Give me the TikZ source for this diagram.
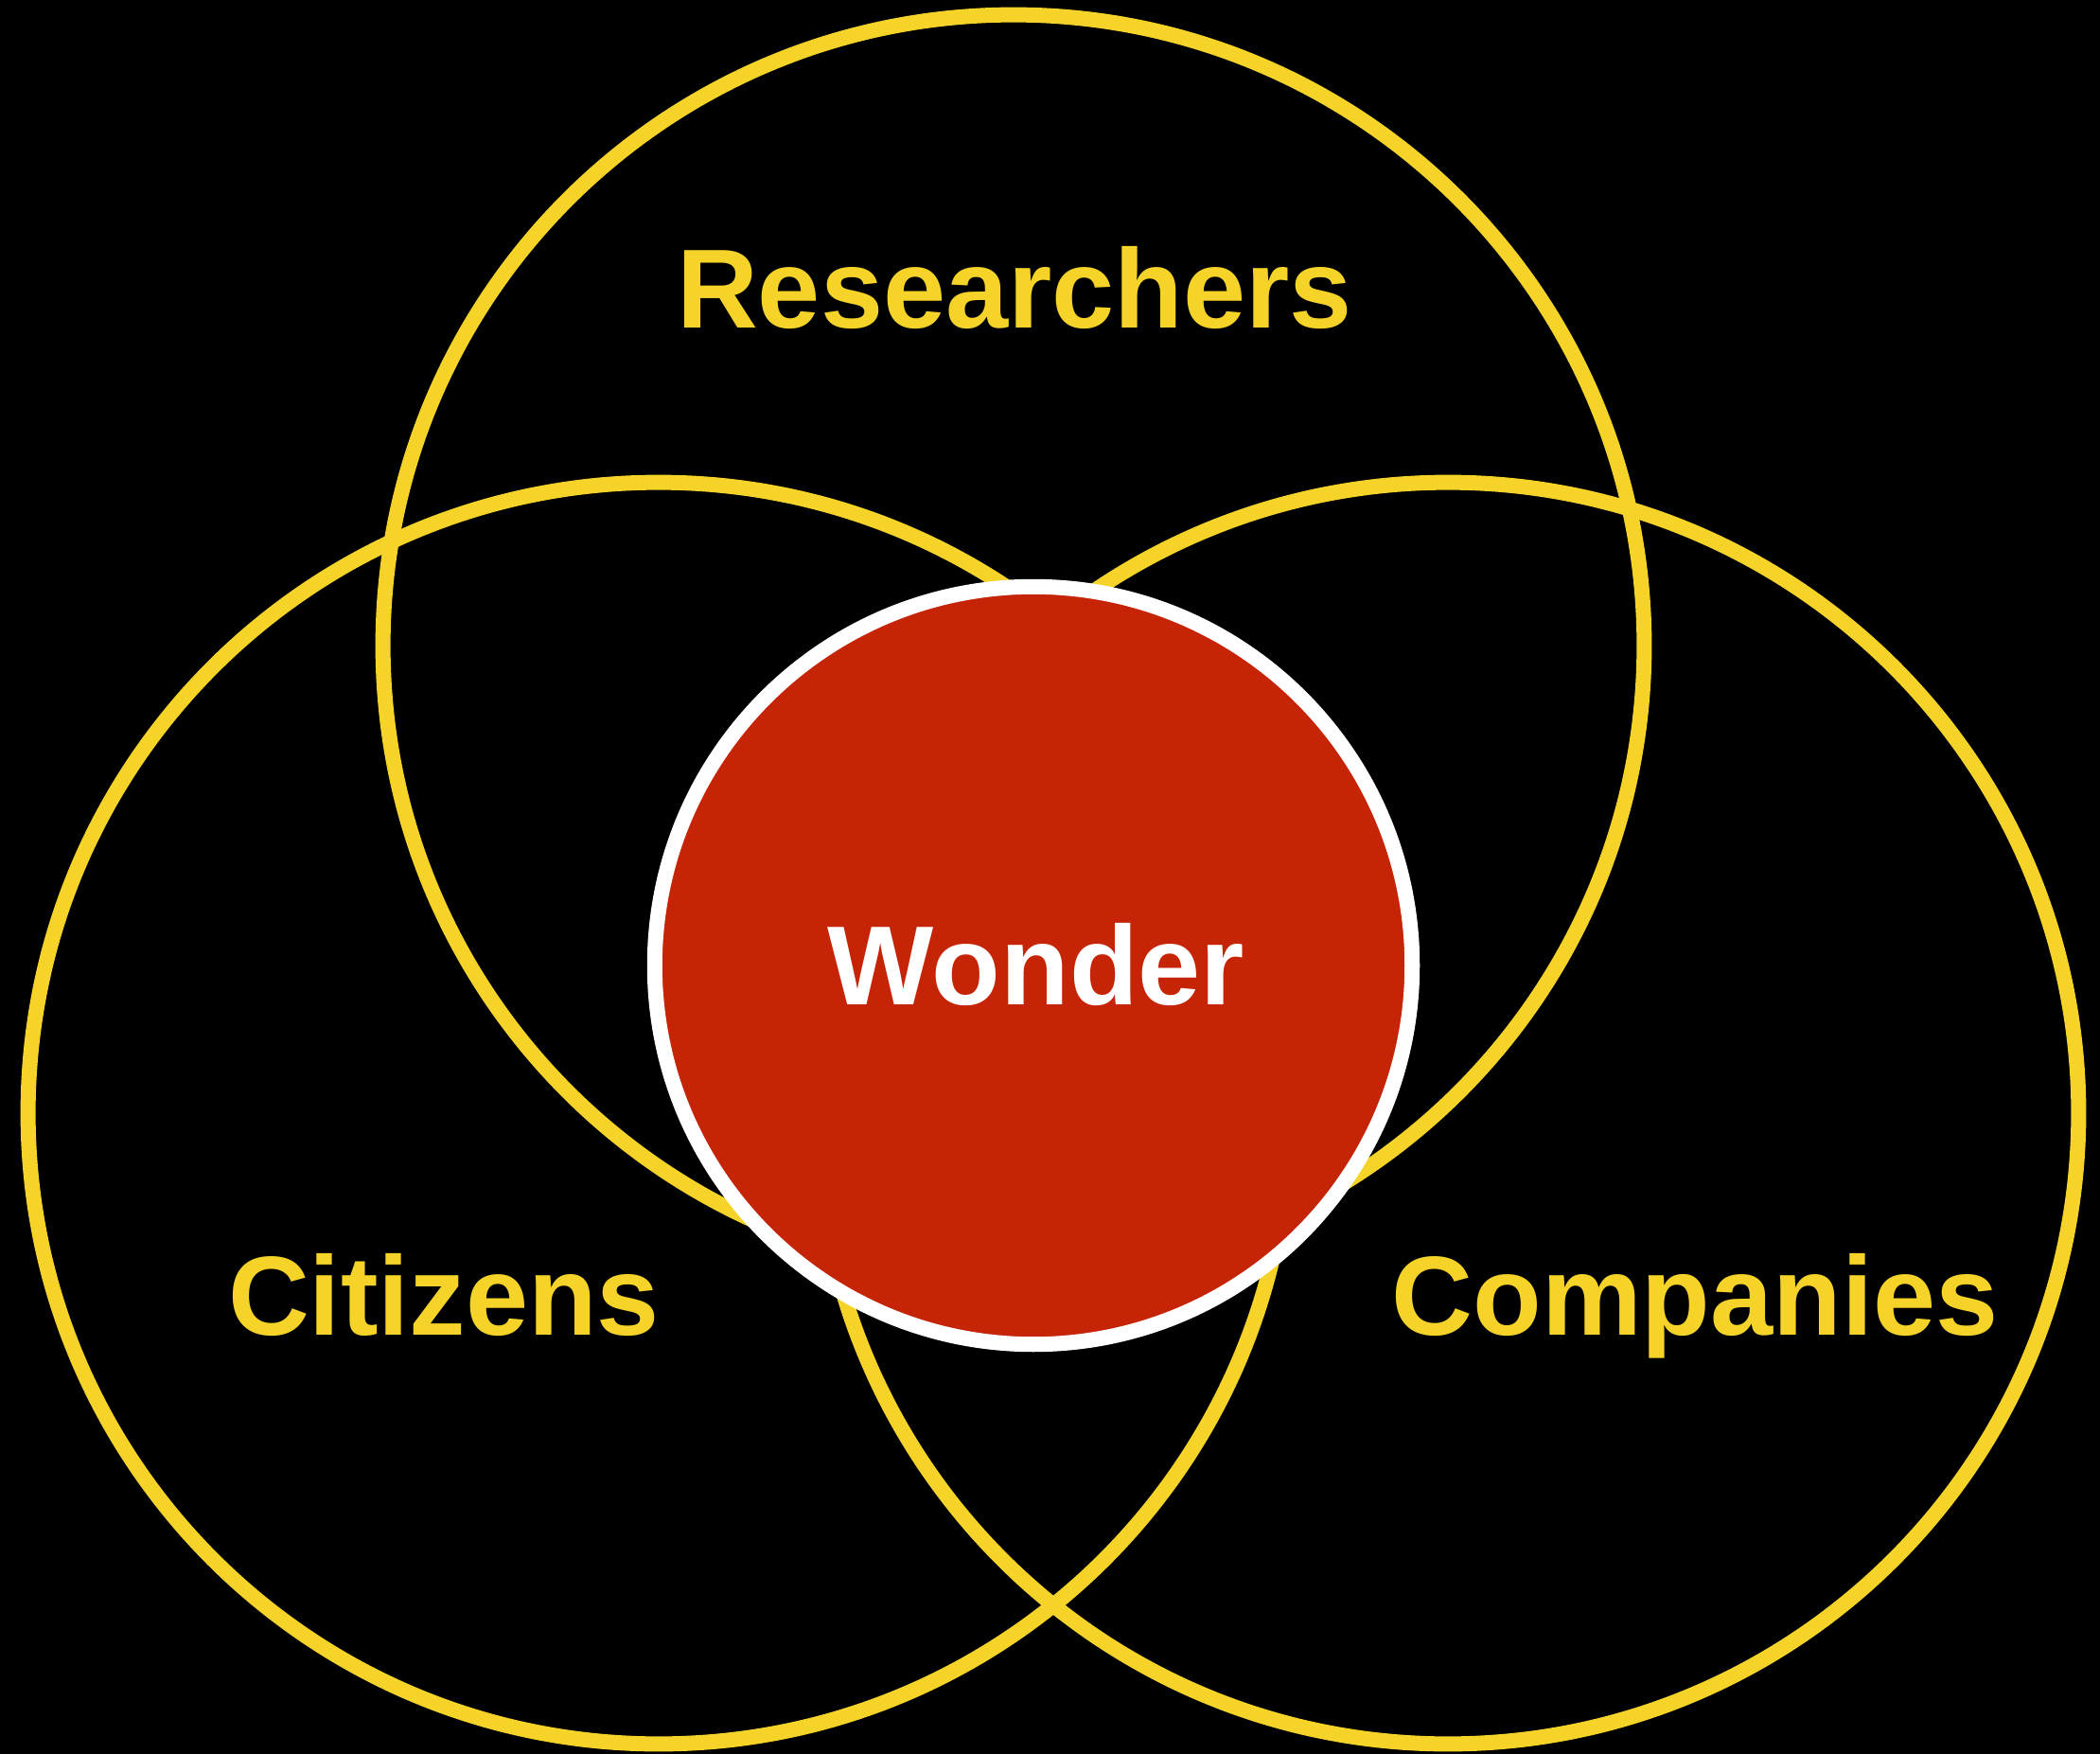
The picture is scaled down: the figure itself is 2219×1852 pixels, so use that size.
\documentclass[tikz,border=0pt]{standalone}
\usepackage{fontspec}
\setmainfont{Liberation Sans}
\definecolor{vyellow}{RGB}{245,211,40}
\definecolor{vred}{RGB}{197,36,6}
\begin{document}
\begin{tikzpicture}[x=0.01cm,y=-0.01cm,
  ring/.style={circle, draw=vyellow, line width=0.16cm, inner sep=0pt, minimum size=13.32cm},
  core/.style={circle, fill=vred, draw=white, line width=0.16cm, inner sep=0pt, minimum size=8cm},
  lbl/.style={font=\fontsize{33.8}{40}\bfseries\selectfont, text=vyellow, anchor=base, inner sep=0pt},
  wlbl/.style={lbl, text=white}]
\useasboundingbox (0,0) rectangle (2219,1852);
\fill[black] (-20,-20) rectangle (2239,1872);
\node[ring] (res) at (1071,682) {};
\node[ring] (cit) at (696,1176) {};
\node[ring] (com) at (1530,1176) {};
\node[core] (won) at (1092,1020) {};
\node[lbl] (tres) at (1072,347) {Researchers};
\node[lbl] (tcit) at (469,1410) {Citizens};
\node[lbl] (tcom) at (1791,1410) {Companies};
\node[wlbl] (twon) at (1095,1061) {Wonder};
\end{tikzpicture}
\end{document}
